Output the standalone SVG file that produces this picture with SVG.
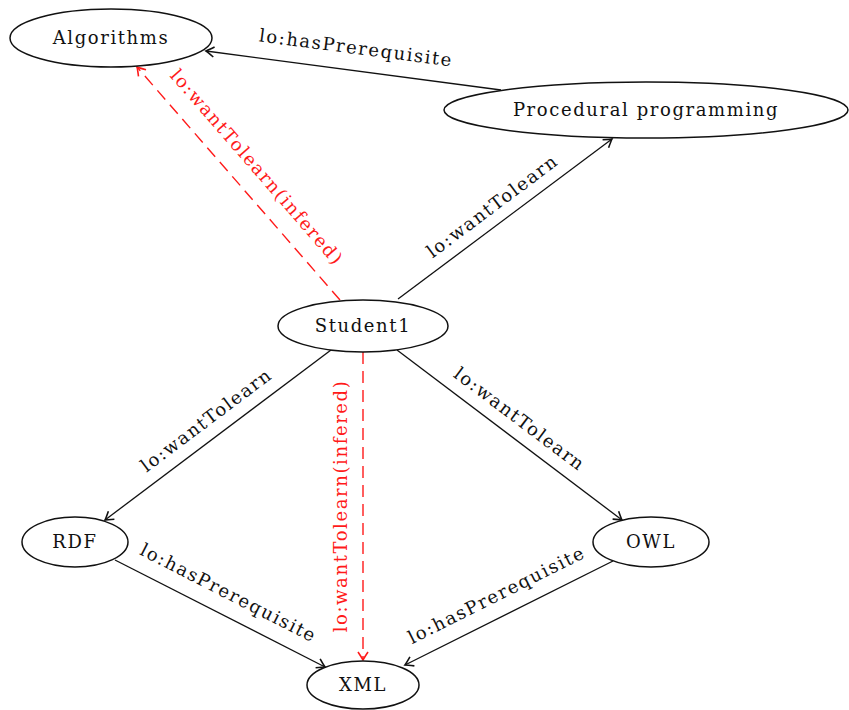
<svg xmlns="http://www.w3.org/2000/svg" width="849" height="710" viewBox="0 0 849 710">
<style>
.node ellipse{fill:#fff;stroke:#111;stroke-width:1.5}
.node text,.lbl{font-family:"DejaVu Serif","Liberation Serif",serif;font-size:18px;letter-spacing:1.6px;text-anchor:middle;fill:#111}
.red{fill:#ff1a1a}
.e{fill:none;stroke:#111;stroke-width:1.3}
.d{fill:none;stroke:#ff1a1a;stroke-width:1.4;stroke-dasharray:12 7}
</style>
<defs>
<marker id="ah" markerUnits="userSpaceOnUse" viewBox="-10 -6 12 12" markerWidth="12" markerHeight="12" refX="0" refY="0" orient="auto">
<path d="M -8 -5 C -5 -3 -2 -1 0 0 C -2 1 -5 3 -8 5" fill="none" stroke="#111" stroke-width="1.6"/>
</marker>
<marker id="ahr" markerUnits="userSpaceOnUse" viewBox="-10 -6 12 12" markerWidth="12" markerHeight="12" refX="0" refY="0" orient="auto">
<path d="M -8 -5 C -5 -3 -2 -1 0 0 C -2 1 -5 3 -8 5" fill="none" stroke="#ff1a1a" stroke-width="1.6"/>
</marker>
</defs>
<g id="connectors">
<path class="e" d="M 501 90 L 206 51" marker-end="url(#ah)"/>
<path class="e" d="M 398 299 L 612 139" marker-end="url(#ah)"/>
<path class="d" d="M 340 300 L 137 67" marker-end="url(#ahr)"/>
<path class="e" d="M 331 350 L 105 520" marker-end="url(#ah)"/>
<path class="d" d="M 363 352 L 363 660" marker-end="url(#ahr)"/>
<path class="e" d="M 397 350 L 622 520" marker-end="url(#ah)"/>
<path class="e" d="M 115 560 L 325 667" marker-end="url(#ah)"/>
<path class="e" d="M 613 561 L 405 665" marker-end="url(#ah)"/>
<text class="lbl" transform="translate(356,49) rotate(7.4)" y="5">lo:hasPrerequisite</text>
<text class="lbl" transform="translate(493,207) rotate(-36.8)" y="5">lo:wantTolearn</text>
<text class="lbl red" transform="translate(256,168) rotate(49)" y="5">lo:wantTolearn(infered)</text>
<text class="lbl red" transform="translate(342,506) rotate(-90)" y="5">lo:wantTolearn(infered)</text>
<text class="lbl" transform="translate(207,421) rotate(-37)" y="5">lo:wantTolearn</text>
<text class="lbl" transform="translate(519,420) rotate(37)" y="5">lo:wantTolearn</text>
<text class="lbl" transform="translate(228,594) rotate(27)" y="5">lo:hasPrerequisite</text>
<text class="lbl" transform="translate(497,596) rotate(-26.6)" y="5">lo:hasPrerequisite</text>
</g>
<g id="n-algorithms" class="node"><ellipse cx="111" cy="38" rx="101" ry="29"/><text x="111" y="44">Algorithms</text></g>
<g id="n-procedural" class="node"><ellipse cx="646" cy="110" rx="202" ry="28"/><text x="646" y="116">Procedural programming</text></g>
<g id="n-student1" class="node"><ellipse cx="363" cy="326" rx="85" ry="26"/><text x="363" y="332">Student1</text></g>
<g id="n-rdf" class="node"><ellipse cx="75" cy="542" rx="53" ry="25"/><text x="75" y="548">RDF</text></g>
<g id="n-owl" class="node"><ellipse cx="651" cy="542" rx="58" ry="25"/><text x="651" y="548">OWL</text></g>
<g id="n-xml" class="node"><ellipse cx="363" cy="685" rx="56" ry="24"/><text x="363" y="691">XML</text></g>
</svg>
